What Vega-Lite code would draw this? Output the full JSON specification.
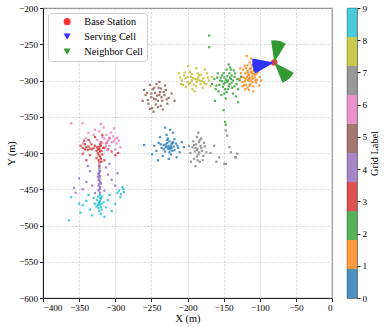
{
  "$schema": "https://vega.github.io/schema/vega-lite/v6.json",
  "background": "white",
  "padding": {"left": 5, "top": 3, "right": 0, "bottom": 0},
  "spacing": 12,
  "config": {
    "font": "Liberation Serif",
    "axis": {"labelFont": "Liberation Serif", "titleFont": "Liberation Serif", "labelFontSize": 9.2, "titleFontSize": 10.3, "titleFontWeight": "normal", "labelColor": "#000", "titleColor": "#000", "tickColor": "#222", "domainColor": "#222", "tickSize": 3.5, "labelPadding": 2, "titlePadding": 2},
    "legend": {"labelFont": "Liberation Serif", "labelFontSize": 10.3, "labelColor": "#000"}
  },
  "datasets": {
    "pts": [
      {"x":-115,"y":-292,"g":1},{"x":-112,"y":-288,"g":1},{"x":-118,"y":-295,"g":1},{"x":-110,"y":-298,"g":1},{"x":-120,"y":-290,"g":1},{"x":-108,"y":-285,"g":1},{"x":-116,"y":-300,"g":1},{"x":-113,"y":-305,"g":1},{"x":-122,"y":-296,"g":1},{"x":-106,"y":-292,"g":1},{"x":-119,"y":-283,"g":1},{"x":-111,"y":-279,"g":1},{"x":-124,"y":-302,"g":1},{"x":-104,"y":-299,"g":1},{"x":-117,"y":-310,"g":1},{"x":-109,"y":-308,"g":1},{"x":-114,"y":-275,"g":1},{"x":-121,"y":-280,"g":1},{"x":-102,"y":-288,"g":1},{"x":-126,"y":-290,"g":1},{"x":-113,"y":-296,"g":1},{"x":-117,"y":-287,"g":1},{"x":-110,"y":-302,"g":1},{"x":-119,"y":-306,"g":1},{"x":-107,"y":-296,"g":1},{"x":-123,"y":-285,"g":1},{"x":-115,"y":-313,"g":1},{"x":-100,"y":-295,"g":1},{"x":-128,"y":-298,"g":1},{"x":-112,"y":-270,"g":1},{"x":-118,"y":-266,"g":1},{"x":-105,"y":-303,"g":1},{"x":-120,"y":-312,"g":1},{"x":-116,"y":-293,"g":1},{"x":-111,"y":-290,"g":1},{"x":-124,"y":-308,"g":1},{"x":-103,"y":-281,"g":1},{"x":-109,"y":-315,"g":1},{"x":-127,"y":-283,"g":1},{"x":-114,"y":-284,"g":1},{"x":-98,"y":-300,"g":1},{"x":-101,"y":-307,"g":1},
      {"x":-113,"y":-300,"g":1},{"x":-116,"y":-289,"g":1},{"x":-121,"y":-301,"g":1},{"x":-108,"y":-291,"g":1},{"x":-112,"y":-283,"g":1},{"x":-119,"y":-298,"g":1},{"x":-106,"y":-300,"g":1},{"x":-114,"y":-307,"g":1},{"x":-110,"y":-294,"g":1},{"x":-125,"y":-295,"g":1},{"x":-104,"y":-290,"g":1},{"x":-117,"y":-279,"g":1},{"x":-122,"y":-306,"g":1},{"x":-115,"y":-297,"g":1},{"x":-109,"y":-287,"g":1},
      {"x":-145,"y":-302,"g":2},{"x":-140,"y":-298,"g":2},{"x":-150,"y":-305,"g":2},{"x":-138,"y":-310,"g":2},{"x":-155,"y":-300,"g":2},{"x":-142,"y":-290,"g":2},{"x":-148,"y":-312,"g":2},{"x":-135,"y":-295,"g":2},{"x":-152,"y":-293,"g":2},{"x":-160,"y":-307,"g":2},{"x":-132,"y":-305,"g":2},{"x":-146,"y":-285,"g":2},{"x":-157,"y":-315,"g":2},{"x":-137,"y":-318,"g":2},{"x":-143,"y":-308,"g":2},{"x":-149,"y":-296,"g":2},{"x":-163,"y":-298,"g":2},{"x":-128,"y":-300,"g":2},{"x":-141,"y":-282,"g":2},{"x":-153,"y":-320,"g":2},{"x":-134,"y":-290,"g":2},{"x":-147,"y":-325,"g":2},{"x":-158,"y":-290,"g":2},{"x":-130,"y":-312,"g":2},{"x":-144,"y":-300,"g":2},{"x":-151,"y":-309,"g":2},{"x":-139,"y":-303,"g":2},{"x":-161,"y":-312,"g":2},{"x":-136,"y":-286,"g":2},{"x":-154,"y":-296,"g":2},{"x":-126,"y":-295,"g":2},{"x":-166,"y":-305,"g":2},{"x":-143,"y":-278,"g":2},{"x":-149,"y":-318,"g":2},{"x":-133,"y":-322,"g":2},{"x":-145,"y":-294,"g":2},{"x":-170,"y":-238,"g":2},{"x":-170,"y":-254,"g":2},{"x":-150,"y":-341,"g":2},{"x":-148,"y":-357,"g":2},{"x":-147,"y":-361,"g":2},{"x":-130,"y":-330,"g":2},{"x":-162,"y":-328,"g":2},
      {"x":-142,"y":-305,"g":2},{"x":-147,"y":-299,"g":2},{"x":-139,"y":-293,"g":2},{"x":-152,"y":-301,"g":2},{"x":-144,"y":-312,"g":2},{"x":-137,"y":-300,"g":2},{"x":-156,"y":-306,"g":2},{"x":-141,"y":-296,"g":2},{"x":-150,"y":-290,"g":2},{"x":-135,"y":-308,"g":2},{"x":-146,"y":-316,"g":2},{"x":-159,"y":-296,"g":2},{"x":-131,"y":-298,"g":2},{"x":-148,"y":-303,"g":2},{"x":-140,"y":-285,"g":2},
      {"x":-189,"y":-298,"g":8},{"x":-195,"y":-295,"g":8},{"x":-183,"y":-300,"g":8},{"x":-200,"y":-302,"g":8},{"x":-178,"y":-297,"g":8},{"x":-205,"y":-293,"g":8},{"x":-191,"y":-306,"g":8},{"x":-186,"y":-290,"g":8},{"x":-197,"y":-288,"g":8},{"x":-175,"y":-305,"g":8},{"x":-208,"y":-300,"g":8},{"x":-181,"y":-292,"g":8},{"x":-193,"y":-312,"g":8},{"x":-170,"y":-300,"g":8},{"x":-202,"y":-309,"g":8},{"x":-188,"y":-283,"g":8},{"x":-210,"y":-296,"g":8},{"x":-179,"y":-310,"g":8},{"x":-196,"y":-303,"g":8},{"x":-185,"y":-296,"g":8},{"x":-166,"y":-295,"g":8},{"x":-199,"y":-280,"g":8},{"x":-173,"y":-290,"g":8},{"x":-206,"y":-306,"g":8},{"x":-190,"y":-315,"g":8},{"x":-182,"y":-305,"g":8},{"x":-212,"y":-290,"g":8},{"x":-176,"y":-285,"g":8},{"x":-194,"y":-300,"g":8},{"x":-187,"y":-302,"g":8},{"x":-168,"y":-308,"g":8},{"x":-203,"y":-297,"g":8},
      {"x":-192,"y":-297,"g":8},{"x":-184,"y":-293,"g":8},{"x":-198,"y":-305,"g":8},{"x":-180,"y":-301,"g":8},{"x":-204,"y":-289,"g":8},{"x":-188,"y":-308,"g":8},{"x":-172,"y":-296,"g":8},{"x":-200,"y":-295,"g":8},{"x":-186,"y":-299,"g":8},{"x":-194,"y":-291,"g":8},{"x":-177,"y":-303,"g":8},{"x":-209,"y":-305,"g":8},
      {"x":-242,"y":-321,"g":5},{"x":-238,"y":-316,"g":5},{"x":-246,"y":-325,"g":5},{"x":-235,"y":-328,"g":5},{"x":-250,"y":-318,"g":5},{"x":-240,"y":-310,"g":5},{"x":-232,"y":-320,"g":5},{"x":-255,"y":-327,"g":5},{"x":-244,"y":-333,"g":5},{"x":-248,"y":-312,"g":5},{"x":-230,"y":-313,"g":5},{"x":-237,"y":-335,"g":5},{"x":-252,"y":-306,"g":5},{"x":-226,"y":-324,"g":5},{"x":-258,"y":-320,"g":5},{"x":-243,"y":-305,"g":5},{"x":-234,"y":-340,"g":5},{"x":-249,"y":-338,"g":5},{"x":-222,"y":-318,"g":5},{"x":-260,"y":-313,"g":5},{"x":-241,"y":-328,"g":5},{"x":-236,"y":-323,"g":5},{"x":-245,"y":-317,"g":5},{"x":-228,"y":-332,"g":5},{"x":-254,"y":-332,"g":5},{"x":-239,"y":-302,"g":5},{"x":-218,"y":-328,"g":5},{"x":-262,"y":-328,"g":5},{"x":-247,"y":-343,"g":5},{"x":-231,"y":-307,"g":5},
      {"x":-244,"y":-326,"g":5},{"x":-239,"y":-320,"g":5},{"x":-250,"y":-323,"g":5},{"x":-233,"y":-316,"g":5},{"x":-246,"y":-310,"g":5},{"x":-241,"y":-337,"g":5},{"x":-256,"y":-317,"g":5},{"x":-229,"y":-326,"g":5},{"x":-237,"y":-311,"g":5},{"x":-252,"y":-339,"g":5},
      {"x":-226,"y":-390,"g":0},{"x":-222,"y":-388,"g":0},{"x":-230,"y":-392,"g":0},{"x":-224,"y":-395,"g":0},{"x":-228,"y":-386,"g":0},{"x":-219,"y":-391,"g":0},{"x":-233,"y":-389,"g":0},{"x":-225,"y":-384,"g":0},{"x":-221,"y":-397,"g":0},{"x":-231,"y":-398,"g":0},{"x":-216,"y":-387,"g":0},{"x":-236,"y":-393,"g":0},{"x":-227,"y":-380,"g":0},{"x":-213,"y":-393,"g":0},{"x":-240,"y":-386,"g":0},{"x":-223,"y":-402,"g":0},{"x":-229,"y":-375,"g":0},{"x":-218,"y":-381,"g":0},{"x":-234,"y":-404,"g":0},{"x":-211,"y":-399,"g":0},{"x":-243,"y":-397,"g":0},{"x":-226,"y":-408,"g":0},{"x":-220,"y":-372,"g":0},{"x":-238,"y":-378,"g":0},{"x":-208,"y":-385,"g":0},{"x":-246,"y":-390,"g":0},{"x":-231,"y":-365,"g":0},{"x":-215,"y":-406,"g":0},{"x":-241,"y":-410,"g":0},{"x":-205,"y":-392,"g":0},{"x":-224,"y":-368,"g":0},{"x":-249,"y":-402,"g":0},{"x":-260,"y":-389,"g":0},{"x":-225,"y":-393,"g":0},{"x":-220,"y":-385,"g":0},
      {"x":-223,"y":-391,"g":0},{"x":-227,"y":-394,"g":0},{"x":-221,"y":-386,"g":0},{"x":-230,"y":-388,"g":0},{"x":-218,"y":-396,"g":0},{"x":-233,"y":-395,"g":0},{"x":-225,"y":-399,"g":0},{"x":-228,"y":-382,"g":0},{"x":-214,"y":-390,"g":0},{"x":-237,"y":-388,"g":0},{"x":-222,"y":-393,"g":0},{"x":-229,"y":-391,"g":0},
      {"x":-186,"y":-394,"g":7},{"x":-182,"y":-390,"g":7},{"x":-190,"y":-398,"g":7},{"x":-185,"y":-402,"g":7},{"x":-188,"y":-388,"g":7},{"x":-180,"y":-397,"g":7},{"x":-193,"y":-392,"g":7},{"x":-184,"y":-385,"g":7},{"x":-178,"y":-404,"g":7},{"x":-191,"y":-408,"g":7},{"x":-187,"y":-378,"g":7},{"x":-176,"y":-391,"g":7},{"x":-196,"y":-400,"g":7},{"x":-183,"y":-412,"g":7},{"x":-189,"y":-418,"g":7},{"x":-174,"y":-399,"g":7},{"x":-198,"y":-390,"g":7},{"x":-181,"y":-380,"g":7},{"x":-192,"y":-384,"g":7},{"x":-179,"y":-410,"g":7},{"x":-185,"y":-372,"g":7},{"x":-195,"y":-412,"g":7},{"x":-177,"y":-386,"g":7},{"x":-187,"y":-396,"g":7},{"x":-163,"y":-390,"g":7},{"x":-147,"y":-415,"g":7},{"x":-133,"y":-406,"g":7},{"x":-131,"y":-401,"g":7},{"x":-140,"y":-399,"g":7},{"x":-145,"y":-376,"g":7},{"x":-147,"y":-369,"g":7},{"x":-156,"y":-406,"g":7},{"x":-149,"y":-415,"g":7},{"x":-134,"y":-406,"g":7},{"x":-168,"y":-400,"g":7},{"x":-160,"y":-412,"g":7},{"x":-142,"y":-392,"g":7},
      {"x":-189,"y":-393,"g":7},{"x":-184,"y":-399,"g":7},{"x":-187,"y":-405,"g":7},{"x":-181,"y":-393,"g":7},{"x":-191,"y":-389,"g":7},{"x":-186,"y":-410,"g":7},{"x":-183,"y":-382,"g":7},
      {"x":-322,"y":-395,"g":3},{"x":-320,"y":-390,"g":3},{"x":-324,"y":-400,"g":3},{"x":-321,"y":-405,"g":3},{"x":-323,"y":-410,"g":3},{"x":-319,"y":-397,"g":3},{"x":-325,"y":-392,"g":3},{"x":-320,"y":-385,"g":3},{"x":-322,"y":-413,"g":3},{"x":-318,"y":-402,"g":3},{"x":-326,"y":-407,"g":3},{"x":-330,"y":-393,"g":3},{"x":-335,"y":-394,"g":3},{"x":-340,"y":-392,"g":3},{"x":-345,"y":-393,"g":3},{"x":-338,"y":-396,"g":3},{"x":-328,"y":-390,"g":3},{"x":-315,"y":-393,"g":3},{"x":-310,"y":-395,"g":3},{"x":-348,"y":-390,"g":3},{"x":-342,"y":-388,"g":3},{"x":-333,"y":-388,"g":3},{"x":-312,"y":-386,"g":3},{"x":-305,"y":-398,"g":3},{"x":-300,"y":-403,"g":3},{"x":-296,"y":-400,"g":3},{"x":-335,"y":-403,"g":3},{"x":-340,"y":-410,"g":3},{"x":-345,"y":-401,"g":3},{"x":-315,"y":-410,"g":3},{"x":-308,"y":-380,"g":3},{"x":-318,"y":-375,"g":3},{"x":-328,"y":-378,"g":3},{"x":-337,"y":-382,"g":3},{"x":-343,"y":-383,"g":3},{"x":-322,"y":-418,"g":3},{"x":-321,"y":-388,"g":3},{"x":-317,"y":-393,"g":3},{"x":-326,"y":-397,"g":3},
      {"x":-321,"y":-398,"g":3},{"x":-323,"y":-403,"g":3},{"x":-320,"y":-408,"g":3},{"x":-322,"y":-392,"g":3},{"x":-324,"y":-395,"g":3},{"x":-332,"y":-395,"g":3},{"x":-337,"y":-391,"g":3},{"x":-342,"y":-395,"g":3},{"x":-319,"y":-412,"g":3},
      {"x":-310,"y":-383,"g":6},{"x":-305,"y":-385,"g":6},{"x":-315,"y":-380,"g":6},{"x":-300,"y":-381,"g":6},{"x":-308,"y":-390,"g":6},{"x":-298,"y":-387,"g":6},{"x":-312,"y":-375,"g":6},{"x":-303,"y":-377,"g":6},{"x":-318,"y":-386,"g":6},{"x":-295,"y":-383,"g":6},{"x":-325,"y":-382,"g":6},{"x":-330,"y":-375,"g":6},{"x":-335,"y":-385,"g":6},{"x":-340,"y":-380,"g":6},{"x":-322,"y":-370,"g":6},{"x":-316,"y":-365,"g":6},{"x":-328,"y":-368,"g":6},{"x":-306,"y":-372,"g":6},{"x":-300,"y":-395,"g":6},{"x":-293,"y":-392,"g":6},{"x":-345,"y":-387,"g":6},{"x":-361,"y":-359,"g":6},{"x":-345,"y":-359,"g":6},{"x":-320,"y":-360,"g":6},{"x":-313,"y":-391,"g":6},{"x":-302,"y":-366,"g":6},{"x":-337,"y":-372,"g":6},{"x":-311,"y":-396,"g":6},
      {"x":-308,"y":-379,"g":6},{"x":-302,"y":-384,"g":6},{"x":-313,"y":-387,"g":6},{"x":-297,"y":-379,"g":6},{"x":-318,"y":-378,"g":6},
      {"x":-322,"y":-420,"g":4},{"x":-321,"y":-425,"g":4},{"x":-323,"y":-430,"g":4},{"x":-322,"y":-435,"g":4},{"x":-321,"y":-440,"g":4},{"x":-323,"y":-445,"g":4},{"x":-322,"y":-450,"g":4},{"x":-321,"y":-455,"g":4},{"x":-323,"y":-428,"g":4},{"x":-322,"y":-438,"g":4},{"x":-321,"y":-447,"g":4},{"x":-324,"y":-433,"g":4},{"x":-320,"y":-442,"g":4},{"x":-322,"y":-417,"g":4},{"x":-323,"y":-452,"g":4},{"x":-335,"y":-425,"g":4},{"x":-310,"y":-430,"g":4},{"x":-340,"y":-440,"g":4},{"x":-305,"y":-437,"g":4},{"x":-345,"y":-450,"g":4},{"x":-300,"y":-445,"g":4},{"x":-332,"y":-445,"g":4},{"x":-313,"y":-420,"g":4},{"x":-350,"y":-435,"g":4},{"x":-297,"y":-428,"g":4},{"x":-328,"y":-455,"g":4},{"x":-315,"y":-452,"g":4},{"x":-357,"y":-448,"g":4},{"x":-338,"y":-418,"g":4},{"x":-308,"y":-415,"g":4},{"x":-355,"y":-455,"g":4},
      {"x":-322,"y":-423,"g":4},{"x":-321,"y":-432,"g":4},{"x":-323,"y":-437,"g":4},{"x":-322,"y":-443,"g":4},{"x":-321,"y":-449,"g":4},{"x":-322,"y":-427,"g":4},
      {"x":-322,"y":-468,"g":9},{"x":-320,"y":-463,"g":9},{"x":-324,"y":-472,"g":9},{"x":-321,"y":-458,"g":9},{"x":-323,"y":-476,"g":9},{"x":-319,"y":-470,"g":9},{"x":-325,"y":-465,"g":9},{"x":-322,"y":-480,"g":9},{"x":-318,"y":-460,"g":9},{"x":-326,"y":-474,"g":9},{"x":-321,"y":-466,"g":9},{"x":-320,"y":-484,"g":9},{"x":-328,"y":-470,"g":9},{"x":-316,"y":-468,"g":9},{"x":-330,"y":-462,"g":9},{"x":-313,"y":-475,"g":9},{"x":-335,"y":-478,"g":9},{"x":-310,"y":-465,"g":9},{"x":-340,"y":-466,"g":9},{"x":-305,"y":-480,"g":9},{"x":-345,"y":-472,"g":9},{"x":-300,"y":-470,"g":9},{"x":-332,"y":-486,"g":9},{"x":-315,"y":-488,"g":9},{"x":-337,"y":-458,"g":9},{"x":-308,"y":-458,"g":9},{"x":-295,"y":-452,"g":9},{"x":-292,"y":-457,"g":9},{"x":-289,"y":-450,"g":9},{"x":-293,"y":-461,"g":9},{"x":-290,"y":-447,"g":9},{"x":-297,"y":-455,"g":9},{"x":-288,"y":-454,"g":9},{"x":-361,"y":-461,"g":9},{"x":-364,"y":-493,"g":9},{"x":-350,"y":-470,"g":9},{"x":-348,"y":-482,"g":9},
      {"x":-321,"y":-462,"g":9},{"x":-323,"y":-469,"g":9},{"x":-320,"y":-474,"g":9},{"x":-322,"y":-471,"g":9},{"x":-324,"y":-460,"g":9},{"x":-319,"y":-478,"g":9}
    ],
    "bs": [{"x": -80, "y": -275, "kind": "Base Station"}],
    "cells": [
      {"x": -80, "y": -275, "kind": "Serving Cell", "a0": 240, "a1": 280},
      {"x": -80, "y": -275, "kind": "Neighbor Cell", "a0": -8, "a1": 32},
      {"x": -80, "y": -275, "kind": "Neighbor Cell", "a0": 118, "a1": 158}
    ],
    "cbar": [
      {"g": 0, "lo": 0, "hi": 0.9}, {"g": 1, "lo": 0.9, "hi": 1.8}, {"g": 2, "lo": 1.8, "hi": 2.7}, {"g": 3, "lo": 2.7, "hi": 3.6}, {"g": 4, "lo": 3.6, "hi": 4.5},
      {"g": 5, "lo": 4.5, "hi": 5.4}, {"g": 6, "lo": 5.4, "hi": 6.3}, {"g": 7, "lo": 6.3, "hi": 7.2}, {"g": 8, "lo": 7.2, "hi": 8.1}, {"g": 9, "lo": 8.1, "hi": 9}
    ]
  },
  "hconcat": [
    {
      "width": 289,
      "height": 290,
      "view": {"stroke": "#888", "strokeWidth": 1.2},
      "encoding": {
        "x": {"field": "x", "type": "quantitative", "scale": {"domain": [-400, 0], "nice": false, "zero": false},
              "axis": {"title": "X (m)", "values": [-400, -350, -300, -250, -200, -150, -100, -50, 0], "grid": true, "gridDash": [2, 2], "gridColor": "#bbb", "gridWidth": 0.6, "labelPadding": 2, "titlePadding": 1}},
        "y": {"field": "y", "type": "quantitative", "scale": {"domain": [-600, -200], "nice": false, "zero": false},
              "axis": {"title": "Y (m)", "values": [-600, -550, -500, -450, -400, -350, -300, -250, -200], "grid": true, "gridDash": [2, 2], "gridColor": "#bbb", "gridWidth": 0.6, "labelPadding": 2, "titlePadding": 2}}
      },
      "layer": [
        {
          "data": {"name": "pts"},
          "mark": {"type": "point", "shape": "square", "filled": true, "size": 5, "opacity": 0.8},
          "encoding": {
            "color": {"field": "g", "type": "nominal", "legend": null,
                      "scale": {"domain": [0, 1, 2, 3, 4, 5, 6, 7, 8, 9], "range": ["#1f77b4", "#ff7f0e", "#2ca02c", "#d62728", "#9467bd", "#8c564b", "#e377c2", "#7f7f7f", "#bcbd22", "#17becf"]}}
          }
        },
        {
          "data": {"name": "bs"},
          "mark": {"type": "point", "filled": true, "size": 42, "opacity": 1},
          "encoding": {
            "fill": {"field": "kind", "type": "nominal",
                     "scale": {"domain": ["Base Station", "Serving Cell", "Neighbor Cell"], "range": ["#ff3333", "#3333ff", "#339933"]},
                     "legend": {"title": null, "orient": "top-left", "offset": 5, "padding": 3.5, "symbolOffset": 10.5, "labelOffset": 12, "symbolSize": 50, "rowPadding": 4, "strokeColor": "#ccc", "fillColor": "white", "cornerRadius": 3, "symbolStrokeWidth": 0}},
            "shape": {"field": "kind", "type": "nominal",
                      "scale": {"domain": ["Base Station", "Serving Cell", "Neighbor Cell"], "range": ["circle", "triangle-down", "triangle-down"]},
                      "legend": {"title": null, "orient": "top-left", "offset": 5, "padding": 3.5, "symbolOffset": 10.5, "labelOffset": 12, "symbolSize": 50, "rowPadding": 4, "strokeColor": "#ccc", "fillColor": "white", "cornerRadius": 3, "symbolStrokeWidth": 0}}
          }
        },
        {
          "data": {"name": "cells"},
          "mark": {"type": "arc", "outerRadius": 22, "innerRadius": 0},
          "encoding": {
            "theta": {"field": "a0", "type": "quantitative", "stack": null, "scale": {"domain": [0, 360], "range": [0, 6.283185307]}},
            "theta2": {"field": "a1"},
            "fill": {"field": "kind", "type": "nominal", "legend": null}
          }
        }
      ]
    },
    {
      "data": {"name": "cbar"},
      "width": 10,
      "height": 290,
      "view": {"stroke": "#333", "strokeWidth": 0.8},
      "mark": {"type": "rect", "opacity": 0.8},
      "encoding": {
        "y": {"field": "lo", "type": "quantitative", "scale": {"domain": [0, 9], "nice": false, "zero": false},
              "axis": {"orient": "right", "title": "Grid Label", "titleAngle": 270, "titleBaseline": "top", "values": [0, 1, 2, 3, 4, 5, 6, 7, 8, 9], "grid": false, "domain": false, "tickSize": 3, "labelPadding": 2, "titlePadding": 3}},
        "y2": {"field": "hi"},
        "color": {"field": "g", "type": "nominal", "legend": null,
                  "scale": {"domain": [0, 1, 2, 3, 4, 5, 6, 7, 8, 9], "range": ["#1f77b4", "#ff7f0e", "#2ca02c", "#d62728", "#9467bd", "#8c564b", "#e377c2", "#7f7f7f", "#bcbd22", "#17becf"]}}
      }
    }
  ]
}
